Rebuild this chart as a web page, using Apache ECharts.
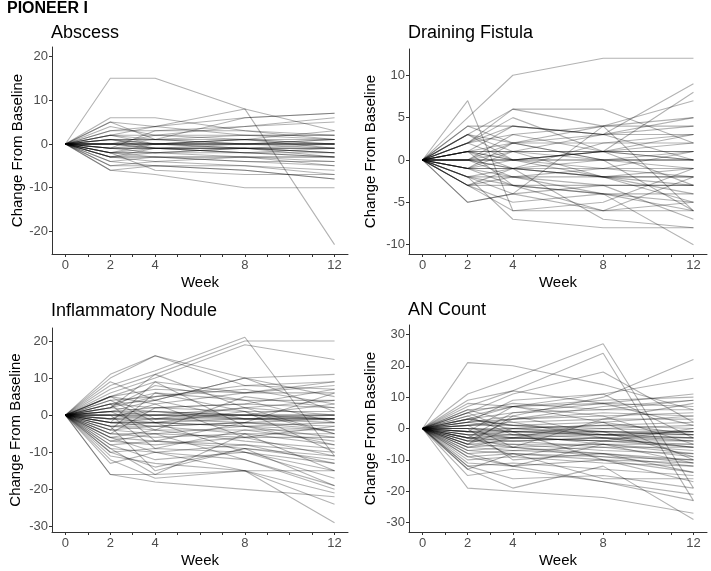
<!DOCTYPE html>
<html>
<head>
    <meta charset="UTF-8">
    <title>PIONEER I</title>
    <script src="https://cdn.jsdelivr.net/npm/echarts@6/dist/echarts.min.js"></script>
    <style>
        body { margin: 0; background: #fff; }
        #main { width: 711px; height: 571px; }
    </style>
</head>
<body>
<div id="main"></div>
<script>
    // weeks of each visit
    var weeks = [0, 2, 4, 8, 12];
    var xTicks = [0, 1, 2, 3, 4, 5, 6, 7, 8, 9, 10, 11, 12];
    var xLabels = [0, 2, 4, 8, 12];

    // one row per patient: change from baseline at weeks 0, 2, 4, 8, 12
    var abscess = [
        [0,15,15,8,-23], [0,6,6,3,1], [0,5,4,8,3], [0,5,1,6,7], [0,4,2,4,5],
        [0,3,4,2,2], [0,2,2,1,3], [0,2,1,0,1], [0,2,0,1,0], [0,1,1,2,2],
        [0,1,0,0,1], [0,1,1,1,0], [0,0,0,0,0], [0,0,0,0,0], [0,0,1,0,-1],
        [0,0,-1,0,0], [0,0,0,-1,-1], [0,0,0,1,1], [0,-1,-1,-1,-1], [0,-1,0,-1,-2],
        [0,-1,-1,-2,-1], [0,-1,-2,-1,-2], [0,-2,-1,-2,-3], [0,-2,-2,-2,-2], [0,-2,-3,-3,-3],
        [0,-3,-2,-3,-4], [0,-3,-3,-4,-4], [0,-3,-4,-3,-5], [0,-4,-3,-4,-5], [0,-4,-5,-5,-6],
        [0,-5,-4,-5,-7], [0,-5,-5,-6,-8], [0,-6,-5,-6,-8], [0,-6,-7,-10,-10], [0,-2,-6,-7,-7],
        [0,3,3,4,6], [0,-1,3,3,2], [0,1,-1,-2,-3], [0,-2,0,1,-1], [0,0,2,2,1],
        [0,-3,-1,-1,0], [0,2,4,6,7], [0,0,0,0,0], [0,-1,-1,-1,-1], [0,1,0,0,0],
        [0,-2,-2,-1,-2], [0,0,-1,-1,-3], [0,-3,-3,-3,-3]
    ];
    var drainingFistula = [
        [0,5,10,12,12], [0,7,-6,-6,-5], [0,3,6,6,2], [0,1,4,3,9], [0,2,5,1,8],
        [0,0,3,4,7], [0,4,4,3,5], [0,3,2,4,5], [0,2,4,3,4], [0,1,2,3,3],
        [0,1,1,1,3], [0,3,0,1,2], [0,1,-1,2,2], [0,0,1,1,1], [0,1,0,1,1],
        [0,0,0,0,0], [0,0,0,0,0], [0,0,2,0,0], [0,-1,0,1,0], [0,0,-1,0,-1],
        [0,-1,-1,-1,-1], [0,-1,-2,-1,-2], [0,-2,-1,-2,-2], [0,-2,-2,-2,-3], [0,-3,-2,-3,-3],
        [0,-3,-3,-4,-4], [0,-1,-3,-4,-5], [0,-2,-4,-6,-6], [0,-3,-5,-4,-6], [0,-5,-4,-3,-7],
        [0,-2,-7,-8,-8], [0,-3,-1,-7,-8], [0,0,-2,-4,-10], [0,2,3,1,-3], [0,3,1,-2,-5],
        [0,-1,2,0,-6], [0,1,-3,-6,-2], [0,-3,-6,-5,-1], [0,2,0,-2,-4], [0,4,2,2,3],
        [0,-1,1,3,0], [0,0,-1,-2,-1], [0,1,0,-1,1], [0,-5,-4,4,4], [0,2,6,4,-6],
        [0,0,0,1,0], [0,-1,-1,-2,-2], [0,1,1,0,1], [0,-2,-3,-3,-3]
    ];
    var inflammatoryNodule = [
        [0,11,16,10,5], [0,10,16,8,9], [0,8,12,21,-11], [0,7,11,20,20], [0,6,10,19,15],
        [0,9,4,10,11], [0,5,9,6,9], [0,5,7,6,8], [0,4,5,8,7], [0,5,3,6,6],
        [0,3,6,4,4], [0,2,5,7,3], [0,5,-1,2,4], [0,3,2,3,2], [0,2,1,0,3],
        [0,1,2,1,1], [0,1,0,2,0], [0,0,0,0,0], [0,0,1,-1,0], [0,0,-1,0,-1],
        [0,-1,0,-1,-1], [0,-1,-2,-1,-2], [0,-2,-1,-2,-1], [0,-2,-3,-2,-3], [0,-3,-2,-3,-4],
        [0,-3,-4,-4,-4], [0,-4,-3,-5,-5], [0,-4,-5,-3,-6], [0,-5,-5,-6,-6], [0,-5,-6,-5,-8],
        [0,-6,-4,-7,-9], [0,-6,-7,-8,-10], [0,-7,-8,-6,-11], [0,-8,-7,-9,-12], [0,-9,-10,-8,-13],
        [0,-10,-9,-10,-15], [0,-10,-14,-9,-19], [0,-11,-13,-15,-15], [0,-12,-17,-15,-29], [0,-13,-10,-15,-21],
        [0,-16,-16,-15,-24], [0,-16,-18,-20,-22], [0,-9,-16,-5,-15], [0,-7,-5,-12,-19], [0,-8,-12,-10,-13],
        [0,3,-7,-2,6], [0,-2,9,-3,-8], [0,2,11,2,-5], [0,-3,-15,-9,-11], [0,1,-4,5,2],
        [0,-1,3,-6,-3], [0,4,-2,1,-10], [0,-5,2,3,7], [0,0,-9,-4,-7], [0,2,8,4,-2],
        [0,-4,6,1,-5], [0,-2,-2,-10,-17], [0,1,4,-1,-1], [0,-6,-10,-12,-20], [0,3,4,10,1],
        [0,0,0,0,0], [0,-1,-1,-1,-1], [0,-2,-2,-3,-2], [0,1,1,0,-1], [0,-3,-3,-2,-4]
    ];
    var anCount = [
        [0,21,20,14,6], [0,11,16,27,-19], [0,9,12,24,-23], [0,-5,4,10,22], [0,5,11,18,2],
        [0,8,7,11,16], [0,7,12,8,11], [0,6,7,9,10], [0,5,8,6,9], [0,4,7,8,7],
        [0,3,5,6,6], [0,2,3,4,5], [0,3,1,2,4], [0,1,2,3,3], [0,2,0,1,2],
        [0,1,1,0,1], [0,0,0,1,0], [0,0,-1,0,-1], [0,-1,0,-1,-1], [0,-1,-2,-1,-2],
        [0,-2,-1,-2,-2], [0,-2,-3,-2,-3], [0,-3,-2,-3,-3], [0,-3,-4,-3,-4], [0,-4,-3,-4,-4],
        [0,-4,-5,-5,-5], [0,-5,-4,-6,-6], [0,-5,-6,-5,-7], [0,-6,-5,-7,-8], [0,-6,-7,-6,-9],
        [0,-7,-6,-8,-10], [0,-7,-8,-9,-10], [0,-8,-7,-8,-11], [0,-9,-8,-10,-11], [0,-10,-9,-11,-12],
        [0,-11,-12,-10,-14], [0,-12,-11,-13,-15], [0,-13,-19,-12,-29], [0,-13,-8,-16,-16], [0,-15,-13,-17,-21],
        [0,-19,-20,-22,-27], [0,-12,-16,-15,-19], [0,-9,-12,-17,-23], [0,3,7,2,-10], [0,-1,7,4,-5],
        [0,2,9,11,-3], [0,-3,5,8,1], [0,1,-6,3,8], [0,4,-2,-5,-11], [0,-2,-9,-4,0],
        [0,6,2,-3,-6], [0,-4,3,7,9], [0,0,-10,-8,-14], [0,-6,-3,2,-2], [0,5,-1,-10,-17],
        [0,-8,-12,-5,-8], [0,2,4,-2,-1], [0,-3,-6,-9,-12], [0,1,3,5,4], [0,-5,0,-2,-4],
        [0,3,1,-1,-9], [0,-1,-3,-4,-6], [0,-1,-1,-2,-1], [0,-2,-2,-2,-3], [0,0,-1,-1,-2],
        [0,-3,-3,-4,-5], [0,-4,-4,-3,-6]
    ];

    var yLabelsAbscess = [-20, -10, 0, 10, 20];
    var yLabelsFistula = [-10, -5, 0, 5, 10];
    var yLabelsNodule = [-30, -20, -10, 0, 10, 20];
    var yLabelsAN = [-30, -20, -10, 0, 10, 20, 30];

    var panels = [
        {name: 'Abscess', rows: abscess, ticks: yLabelsAbscess, min: -25.15, max: 22.15,
         left: 52, top: 47, width: 296, height: 207, nameGap: 27, titleTop: 24},
        {name: 'Draining Fistula', rows: drainingFistula, ticks: yLabelsFistula, min: -11.1, max: 13.1,
         left: 409, top: 49, width: 298, height: 205, nameGap: 31, titleTop: 24},
        {name: 'Inflammatory Nodule', rows: inflammatoryNodule, ticks: yLabelsNodule, min: -31.5, max: 23.5,
         left: 52, top: 328, width: 296, height: 204, nameGap: 29, titleTop: 302},
        {name: 'AN Count', rows: anCount, ticks: yLabelsAN, min: -33, max: 33,
         left: 409, top: 325, width: 298, height: 207, nameGap: 31, titleTop: 301}
    ];

    var font = 'Liberation Sans, Arial, sans-serif';
    var axisColor = '#333';

    var option = {
        animation: false,
        backgroundColor: '#fff',
        title: [{
            text: 'PIONEER I', left: 7, top: 1, padding: 0,
            textStyle: {fontFamily: font, fontSize: 16, fontWeight: 'bold', color: '#000'}
        }],
        grid: [], xAxis: [], yAxis: [], series: []
    };

    panels.forEach(function (p, i) {
        option.title.push({
            text: p.name, left: p.left - 1, top: p.titleTop, padding: 0,
            textStyle: {fontFamily: font, fontSize: 18, fontWeight: 'normal', color: '#000'}
        });
        option.grid.push({left: p.left, top: p.top, width: p.width, height: p.height});
        option.xAxis.push({
            type: 'value', gridIndex: i, min: -0.6, max: 12.6,
            name: 'Week', nameLocation: 'middle', nameGap: 21,
            nameTextStyle: {fontFamily: font, fontSize: 15, color: '#000'},
            splitLine: {show: false},
            axisLine: {onZero: false, lineStyle: {color: axisColor, width: 1}},
            axisTick: {length: 3, customValues: xTicks, lineStyle: {color: axisColor}},
            axisLabel: {customValues: xLabels, margin: 5, fontFamily: font, fontSize: 13, color: '#4d4d4d'}
        });
        option.yAxis.push({
            type: 'value', gridIndex: i, min: p.min, max: p.max,
            name: 'Change From Baseline', nameLocation: 'middle', nameRotate: 90, nameGap: p.nameGap,
            nameTextStyle: {fontFamily: font, fontSize: 15, color: '#000'},
            splitLine: {show: false},
            axisLine: {onZero: false, lineStyle: {color: axisColor, width: 1}},
            axisTick: {length: 3, customValues: p.ticks, lineStyle: {color: axisColor}},
            axisLabel: {customValues: p.ticks, margin: 4, fontFamily: font, fontSize: 13, color: '#4d4d4d'}
        });
        p.rows.forEach(function (row) {
            option.series.push({
                type: 'line', xAxisIndex: i, yAxisIndex: i, silent: true,
                symbol: 'none',
                lineStyle: {color: 'rgba(0,0,0,0.3)', width: 1.1},
                data: row.map(function (v, k) { return [weeks[k], v]; })
            });
        });
    });

    var myChart = echarts.init(document.getElementById('main'));
    myChart.setOption(option);
</script>
</body>
</html>
